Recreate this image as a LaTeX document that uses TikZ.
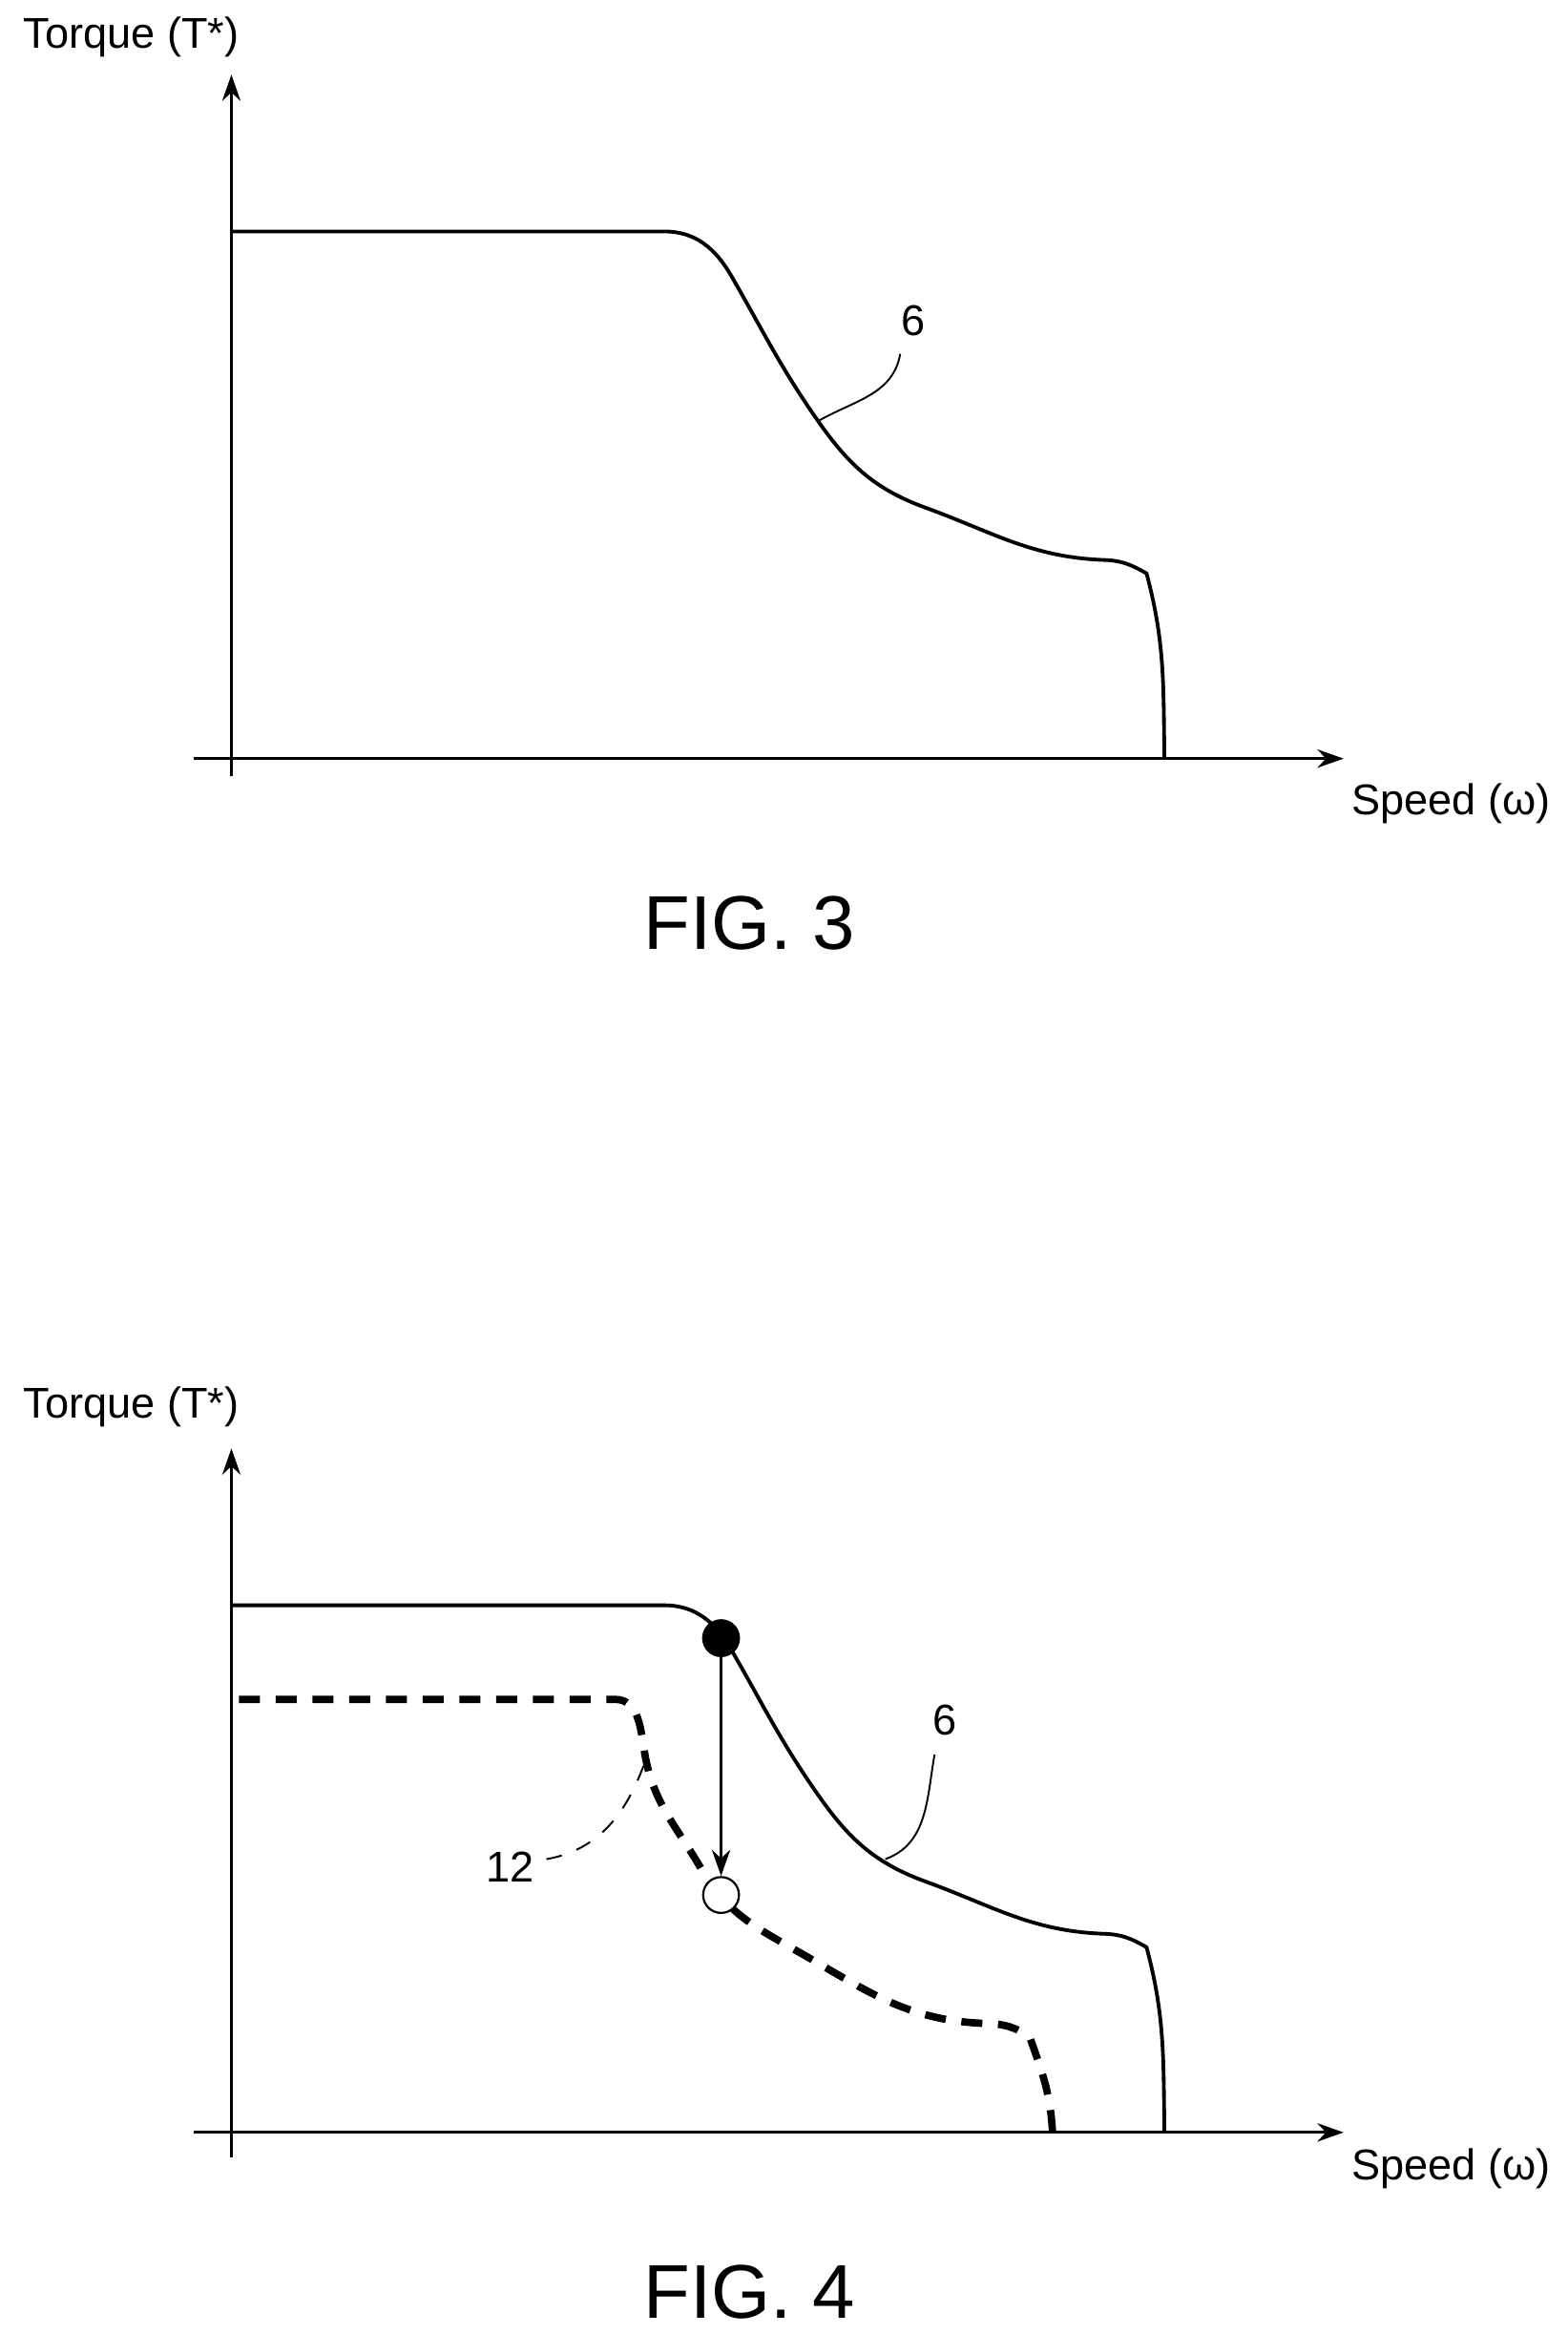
\documentclass[tikz,border=0pt]{standalone}
\usepackage{fontspec}
\setmainfont{Liberation Sans}
\usetikzlibrary{arrows.meta}
\tikzset{
  axis/.style={line width=0.5pt, -{Stealth[length=5pt,width=3.5pt]}},
  curve/.style={line width=0.7pt},
  dcurve/.style={line width=1.4pt, dash pattern=on 4pt off 3pt},
  leader/.style={line width=0.35pt},
  lbl/.style={font=\fontsize{8.2}{10}\selectfont},
  figlbl/.style={font=\fontsize{14.5}{18}\selectfont}
}
\begin{document}
\begin{tikzpicture}[x=0.01cm,y=-0.01cm]
		\useasboundingbox (0,0) rectangle (1050,1563);
		
		% FIG. 3
		\draw[axis] (155,520) -- (155,50);
		\draw[axis] (130,508) -- (900,508);
		\node[lbl] (t3) at (88,25) {Torque (T*)};
		\node[lbl] (s3) at (972,538) {Speed (ω)};
		\node[figlbl] (f3) at (502,618) {FIG. 3};
		\draw[curve] (155,155) -- (445,155) to[out=0,in=120] (490,185)
		  to[out=-60,in=125] (548,282) to[out=-55,in=160] (620,340)
		  to[out=-20,in=178] (740,375) to[out=-2,in=150] (768,384)
		  to[out=-75,in=91] (780,508);
		\node[lbl] (n6a) at (612,215) {6};
		\coordinate (c6a) at (548,282);
		\draw[leader] (603,237) to[out=-100,in=30] (c6a);
		
		% FIG. 4
		\draw[axis] (155,1445) -- (155,970);
		\draw[axis] (130,1428) -- (900,1428);
		\node[lbl] (t4) at (88,942) {Torque (T*)};
		\node[lbl] (s4) at (972,1452) {Speed (ω)};
		\node[figlbl] (f4) at (502,1535) {FIG. 4};
		\draw[curve] (155,1075) -- (445,1075) to[out=0,in=120] (490,1105)
		  to[out=-60,in=125] (548,1202) to[out=-55,in=160] (620,1260)
		  to[out=-20,in=178] (740,1295) to[out=-2,in=150] (768,1304)
		  to[out=-75,in=91] (780,1428);
		\draw[dcurve] (160,1138) -- (412,1138) to[out=0,in=100] (432,1175)
		  to[out=-80,in=120] (470,1252) to[out=-60,in=150] (540,1310)
		  to[out=-30,in=178] (660,1355) to[out=-2,in=140] (690,1365)
		  to[out=-70,in=93] (705,1428);
		\node[draw, fill=black, circle, inner sep=0pt, minimum size=0.24cm] (hi) at (483,1097) {};
		\node[draw, fill=white, circle, inner sep=0pt, minimum size=0.24cm] (lo) at (483,1269) {};
		\draw[leader, line width=0.5pt, -{Stealth[length=5pt,width=3.5pt]}] (hi) -- (lo);
		\node[lbl] (n6b) at (633,1152) {6};
		\draw[leader] (626,1175) to[out=-100,in=20] (593,1245);
		\node[lbl] (n12) at (342,1250) {12};
		\draw[leader, dashed] (366,1245) to[out=10,in=-110] (432,1180);
		
\end{tikzpicture}
\end{document}
